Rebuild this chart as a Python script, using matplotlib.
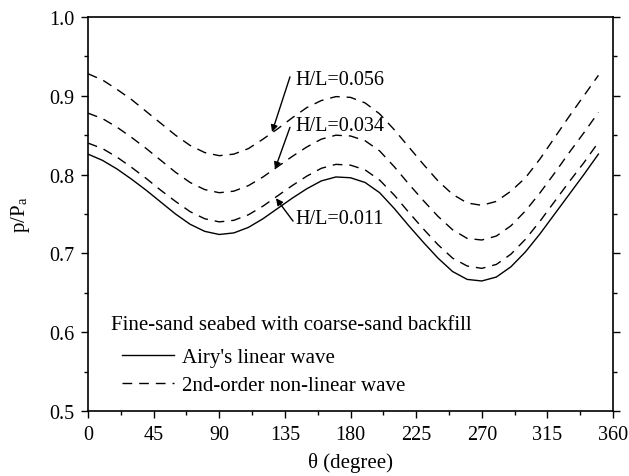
import matplotlib
matplotlib.use("Agg")
import matplotlib.pyplot as plt
from matplotlib.ticker import MultipleLocator

theta = list(range(0, 360, 10))

airy = [0.826, 0.818, 0.807, 0.794, 0.780, 0.765, 0.750, 0.737, 0.728, 0.724,
        0.726, 0.733, 0.744, 0.757, 0.770, 0.782, 0.792, 0.797, 0.796, 0.790,
        0.777, 0.757, 0.735, 0.714, 0.694, 0.677, 0.667, 0.665, 0.670, 0.683,
        0.702, 0.725, 0.750, 0.775, 0.800, 0.826]

hl_011 = [0.840, 0.833, 0.822, 0.809, 0.795, 0.780, 0.766, 0.753, 0.744, 0.740,
          0.742, 0.749, 0.760, 0.773, 0.786, 0.798, 0.808, 0.813, 0.812, 0.806,
          0.793, 0.774, 0.752, 0.731, 0.711, 0.694, 0.684, 0.681, 0.686, 0.699,
          0.718, 0.741, 0.766, 0.791, 0.815, 0.841]

hl_034 = [0.878, 0.871, 0.860, 0.847, 0.833, 0.818, 0.803, 0.790, 0.781, 0.777,
          0.779, 0.786, 0.797, 0.810, 0.823, 0.835, 0.845, 0.850, 0.849, 0.843,
          0.830, 0.810, 0.788, 0.767, 0.747, 0.730, 0.719, 0.717, 0.722, 0.735,
          0.754, 0.777, 0.802, 0.828, 0.853, 0.879]

hl_056 = [0.928, 0.920, 0.908, 0.895, 0.880, 0.865, 0.850, 0.837, 0.828, 0.824,
          0.826, 0.833, 0.845, 0.858, 0.872, 0.885, 0.894, 0.899, 0.898, 0.891,
          0.877, 0.857, 0.835, 0.813, 0.792, 0.775, 0.764, 0.761, 0.766, 0.779,
          0.796, 0.820, 0.847, 0.874, 0.900, 0.926]

x_ticks = [0, 45, 90, 135, 180, 225, 270, 315, 360]
y_ticks = [0.5, 0.6, 0.7, 0.8, 0.9, 1.0]

plt.rcParams['font.family'] = ['Liberation Serif', 'DejaVu Serif']
plt.rcParams['lines.scale_dashes'] = False
plt.rcParams['mathtext.fontset'] = 'stix'

FS = 14.5
LFS = 15

fig = plt.figure(figsize=(6.29, 4.77), dpi=100)
ax = fig.add_axes([88/629, 1 - 412/477, (613-88)/629, (412-18)/477])

dash = (7, 5)
ax.plot(theta, airy, color='black', lw=1.0, label="Airy's linear wave")
l1, = ax.plot(theta, hl_011, color='black', lw=1.0, label='2nd-order non-linear wave')
l1.set_dashes(dash)
l2, = ax.plot(theta, hl_034, color='black', lw=1.0)
l2.set_dashes(dash)
l3, = ax.plot(theta, hl_056, color='black', lw=1.0)
l3.set_dashes(dash)

ax.set_xlim(0, 360)
ax.set_ylim(0.5, 1.0)
ax.set_xticks(x_ticks)
ax.set_yticks(y_ticks)
ax.set_yticklabels([f"{v:.1f}" for v in y_ticks])
ax.xaxis.set_minor_locator(MultipleLocator(22.5))
ax.yaxis.set_minor_locator(MultipleLocator(0.05))
ax.tick_params(which='major', direction='out', length=5, width=1, labelsize=FS,
               top=False, right=True, pad=5)
ax.tick_params(which='minor', direction='out', length=3, width=1, top=False, right=True)
for s in ax.spines.values():
    s.set_linewidth(1.2)

ax.set_xlabel('θ (degree)', fontsize=LFS, labelpad=6)
ax.set_ylabel(r'p/P$_\mathregular{a}$', fontsize=LFS, labelpad=12)

arrow = dict(arrowstyle='-|>', color='black', lw=1.0, mutation_scale=10,
             shrinkA=0, shrinkB=0)
ax.annotate('', xy=(126.2, 0.854), xytext=(138.5, 0.924), arrowprops=arrow)
ax.annotate('', xy=(128.2, 0.807), xytext=(138.5, 0.860), arrowprops=arrow)
ax.annotate('', xy=(128.9, 0.770), xytext=(140.6, 0.741), arrowprops=arrow)
ax.text(142, 0.921, 'H/L=0.056', fontsize=FS, va='center', ha='left')
ax.text(142, 0.862, 'H/L=0.034', fontsize=FS, va='center', ha='left')
ax.text(142, 0.744, 'H/L=0.011', fontsize=FS, va='center', ha='left')

ax.text(15.8, 0.6104, 'Fine-sand seabed with coarse-sand backfill', fontsize=LFS,
        va='center', ha='left')
leg = ax.legend(loc='lower left', bbox_to_anchor=(0.065, 0.04), frameon=False,
                fontsize=LFS, handlelength=2.5, handletextpad=0.35,
                labelspacing=0.4, borderpad=0, borderaxespad=0)

fig.savefig('out.png', dpi=100)
